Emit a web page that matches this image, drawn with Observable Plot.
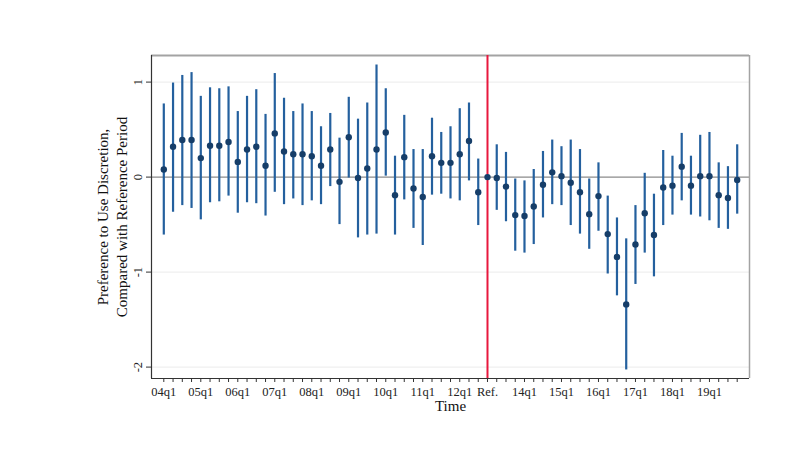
<!DOCTYPE html>
<html>
<head>
<meta charset="utf-8">
<script src="https://cdn.jsdelivr.net/npm/d3@7"></script>
<script src="https://cdn.jsdelivr.net/npm/@observablehq/plot@0.6"></script>
<style>
  html, body { margin: 0; padding: 0; background: #ffffff; }
  #chart svg { display: block; background: #ffffff; }
</style>
</head>
<body>
<div id="chart"></div>
<script>
// x-axis tick labels and the period index (0 = first quarter) at which each sits
const tickLabels = ["04q1","05q1","06q1","07q1","08q1","09q1","10q1","11q1","12q1","Ref.","14q1","15q1","16q1","17q1","18q1","19q1"];
const tickAt     = [0,4,8,12,16,20,24,28,32,35,39,43,47,51,55,59];
const refPeriod = 35;

// point estimates per quarter (index 0..62)
const estimate = [
  0.08, 0.32, 0.39, 0.39, 0.20, 0.33, 0.33, 0.37, 0.16, 0.29,
  0.32, 0.12, 0.46, 0.27, 0.24, 0.24, 0.22, 0.12, 0.29, -0.05,
  0.42, -0.01, 0.09, 0.29, 0.47, -0.19, 0.21, -0.12, -0.21, 0.22,
  0.15, 0.15, 0.24, 0.38, -0.16, 0.00, -0.01, -0.10, -0.40, -0.41,
  -0.31, -0.08, 0.05, 0.01, -0.06, -0.16, -0.39, -0.20, -0.60, -0.84,
  -1.34, -0.71, -0.38, -0.61, -0.11, -0.09, 0.11, -0.09, 0.01, 0.01,
  -0.19, -0.22, -0.03
];
// lower confidence bounds
const lower = [
  -0.61, -0.37, -0.30, -0.33, -0.45, -0.27, -0.26, -0.20, -0.38, -0.27,
  -0.28, -0.41, -0.16, -0.29, -0.23, -0.30, -0.25, -0.29, -0.10, -0.50,
  -0.01, -0.64, -0.61, -0.60, 0.01, -0.61, -0.24, -0.54, -0.72, -0.19,
  -0.18, -0.23, -0.25, -0.04, -0.51, null, -0.35, -0.47, -0.78, -0.80,
  -0.71, -0.43, -0.29, -0.30, -0.51, -0.60, -0.76, -0.57, -1.02, -1.25,
  -2.03, -1.13, -0.80, -1.05, -0.51, -0.40, -0.25, -0.40, -0.42, -0.46,
  -0.54, -0.55, -0.39
];
// upper confidence bounds
const upper = [
  0.77, 0.99, 1.07, 1.10, 0.85, 0.94, 0.93, 0.95, 0.69, 0.85,
  0.92, 0.66, 1.09, 0.83, 0.69, 0.77, 0.69, 0.53, 0.67, 0.41,
  0.84, 0.61, 0.78, 1.18, 0.93, 0.22, 0.65, 0.29, 0.29, 0.62,
  0.47, 0.53, 0.72, 0.78, 0.19, null, 0.34, 0.26, -0.02, -0.04,
  0.08, 0.27, 0.39, 0.32, 0.39, 0.29, -0.02, 0.15, -0.20, -0.43,
  -0.65, -0.30, 0.04, -0.18, 0.28, 0.22, 0.46, 0.22, 0.44, 0.47,
  0.15, 0.11, 0.34
];
const yTicks = [1, 0, -1, -2];
const gridLevels = [1, -1, -2];
const yTitle = "Preference to Use Discretion,\nCompared with Reference Period";
const xTitle = "Time";

const rows = estimate.map((v, i) => ({period: i, est: v, lo: lower[i], hi: upper[i]}));
const ciRows = rows.filter(d => d.lo != null && d.hi != null);
const allPeriods = rows.map(d => d.period);

const xDomain = [-1.33, 63.33];
const yDomain = [-2.12, 1.28];
const font = "'Liberation Serif', 'Times New Roman', serif";

const chart = Plot.plot({
  width: 808,
  height: 455,
  marginLeft: 151,
  marginRight: 59,
  marginTop: 55,
  marginBottom: 77,
  style: {fontFamily: font, background: "#ffffff", color: "#222"},
  x: {type: "linear", domain: xDomain, axis: null},
  y: {type: "linear", domain: yDomain, axis: null},
  marks: [
    Plot.ruleY(gridLevels, {y: d => d, stroke: "#ebebeb", strokeWidth: 1}),
    Plot.ruleY([0], {y: d => d, stroke: "#6e6e6e", strokeWidth: 1}),
    // plot frame: gray top/right, dark left/bottom axes
    Plot.ruleY([yDomain[1]], {y: d => d, stroke: "#a3a3a3", strokeWidth: 2}),
    Plot.ruleX([xDomain[1]], {x: d => d, stroke: "#a3a3a3", strokeWidth: 1.5}),
    Plot.ruleX([refPeriod], {x: d => d, stroke: "#e8173d", strokeWidth: 2}),
    Plot.ruleX(ciRows, {x: "period", y1: "lo", y2: "hi", stroke: "#24609e", strokeWidth: 2.2}),
    Plot.dot(rows, {x: "period", y: "est", r: 3.2, fill: "#163e69", stroke: "none"}),
    Plot.ruleX([xDomain[0]], {x: d => d, stroke: "#333", strokeWidth: 1.2}),
    Plot.ruleY([yDomain[0]], {y: d => d, stroke: "#333", strokeWidth: 1.2}),
    // x ticks (every quarter) and labels
    Plot.axisX({ticks: allPeriods, tickSize: 4, tickFormat: () => "", label: null, stroke: "#333"}),
    Plot.text(tickLabels, {x: (d, i) => tickAt[i], frameAnchor: "bottom", dy: 17, fontSize: 12.5, fill: "#222"}),
    // y ticks and labels
    Plot.axisY({ticks: yTicks, tickSize: 5, tickFormat: () => "", label: null, stroke: "#333"}),
    Plot.text(yTicks, {y: d => d, frameAnchor: "left", textAnchor: "middle", text: d => String(d), rotate: -90, dx: -14, fontSize: 12.5, fill: "#222"}),
    // axis titles
    Plot.text([yTitle], {frameAnchor: "left", textAnchor: "middle", rotate: -90, dx: -40, fontSize: 15, lineHeight: 1.22, fill: "#111"}),
    Plot.text([xTitle], {frameAnchor: "bottom", dy: 32, fontSize: 15, fill: "#111"})
  ]
});
document.getElementById("chart").appendChild(chart);
</script>
</body>
</html>
